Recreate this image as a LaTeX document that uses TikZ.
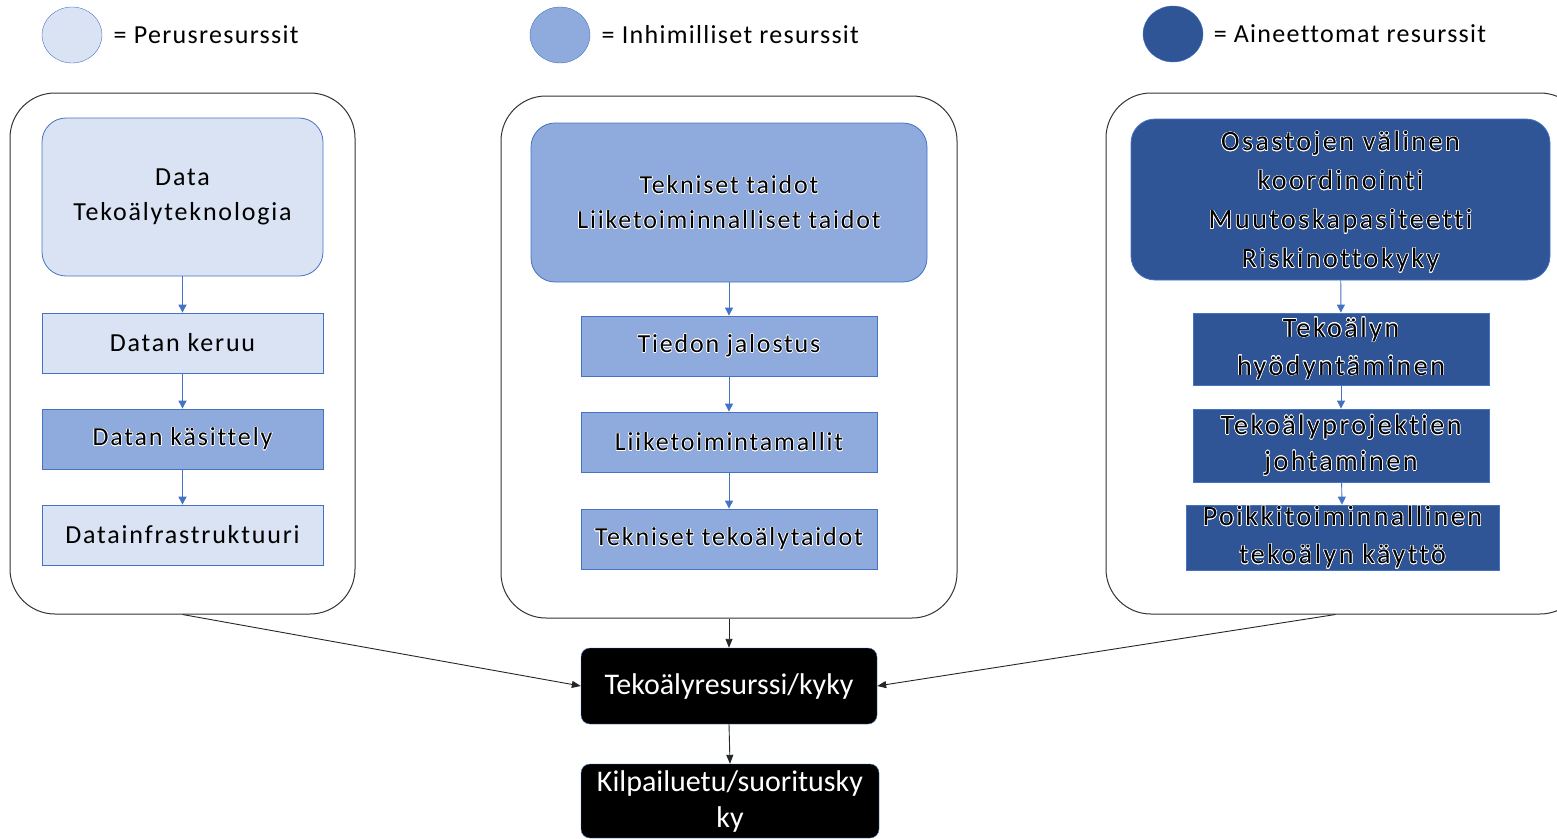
\documentclass[tikz,border=0pt]{standalone}
\usepackage{fontspec}
\setmainfont{Carlito}
\newfontfamily\spaced[LetterSpace=7,Ligatures=NoCommon]{Carlito}
\newfontfamily\widespaced[LetterSpace=9,Ligatures=NoCommon]{Carlito}
\newfontfamily\legendfont[LetterSpace=5,Ligatures=NoCommon]{Carlito}
\usepackage[copies]{contour}
\usepackage{tikz}
\usetikzlibrary{arrows.meta,positioning,shapes.geometric}
\definecolor{resbasic}{HTML}{DAE3F3}
\definecolor{reshuman}{HTML}{8FAADC}
\definecolor{resintang}{HTML}{2F5597}
\definecolor{resedge}{HTML}{4472C4}
\contourlength{0.6pt}
\newcommand{\glow}[1]{\contour{white}{#1}}

\begin{document}
\begin{tikzpicture}[x=1pt, y=-1pt, font=\spaced\fontsize{26}{35}\selectfont,
    group/.style={draw=black!80, line width=1pt, rounded corners=45pt, inner sep=0pt},
    topres/.style={draw=resedge, line width=0.8pt, rounded corners=24pt,
        align=center, inner sep=2pt},
    stepres/.style={draw=resedge, line width=0.8pt, align=center, inner sep=2pt,
        minimum width=281pt, minimum height=60pt},
    result/.style={fill=black, draw=resedge, text=white, rounded corners=9pt,
        align=center, inner sep=2pt, font=\normalfont\fontsize{30}{36}\selectfont},
    legend/.style={ellipse, draw=resedge, minimum width=60pt, minimum height=56pt},
    flow/.style={draw=resedge, line width=0.9pt, -{Triangle[length=8pt,width=8pt]}},
    link/.style={draw=black!85, line width=0.9pt, -{Triangle[length=9pt,width=7pt]}}]
  \useasboundingbox (0,0) rectangle (1557,838);
  \clip (0,0) rectangle (1557,838);

  % legend
  \node[legend, fill=resbasic] (legbasic) at (72,35) {};
  \node[right=8pt of legbasic, font=\legendfont\fontsize{26}{28}\selectfont] (legbasictxt) {= Perusresurssit};
  \node[legend, fill=reshuman] (leghuman) at (560,35) {};
  \node[right=8pt of leghuman, font=\legendfont\fontsize{26}{28}\selectfont] (leghumantxt) {= Inhimilliset resurssit};
  \node[legend, fill=resintang] (legintang) at (1173,34) {};
  \node[right=7pt of legintang, font=\legendfont\fontsize{26}{28}\selectfont] (legintangtxt) {= Aineettomat resurssit};

  % groups
  \node[group, minimum width=345pt, minimum height=521pt] (gbasic) at (182.5,353.5) {};
  \node[group, minimum width=456pt, minimum height=522pt] (ghuman) at (729,357) {};
  \node[group, minimum width=479pt, minimum height=521pt] (gintang) at (1345.5,353.5) {};

  % perusresurssit
  \node[topres, fill=resbasic, minimum width=281pt, minimum height=158pt] (data) at (182.5,197)
    {Data\\Teko\"alyteknologia};
  \node[stepres, fill=resbasic] (keruu) at (182.5,343) {Datan keruu};
  \node[stepres, fill=reshuman] (kasittely) at (182.5,439) {\glow{Datan k\"asittely}};
  \node[stepres, fill=resbasic] (infra) at (182.5,535) {Datainfrastruktuuri};

  % inhimilliset resurssit
  \node[topres, fill=reshuman, minimum width=396pt, minimum height=159pt] (taidot) at (729,202.5)
    {\glow{Tekniset taidot}\\\glow{Liiketoiminnalliset taidot}};
  \node[stepres, fill=reshuman, minimum width=296pt] (jalostus) at (729,346) {\glow{Tiedon jalostus}};
  \node[stepres, fill=reshuman, minimum width=296pt] (mallit) at (729,442) {\glow{Liiketoimintamallit}};
  \node[stepres, fill=reshuman, minimum width=296pt] (tekniset) at (729,539) {\glow{Tekniset teko\"alytaidot}};

  % aineettomat resurssit
  \node[topres, fill=resintang, minimum width=419pt, minimum height=161pt,
    font=\widespaced\fontsize{28}{39}\selectfont, text depth=0pt] (koord) at (1340.5,199.5)
    {\glow{Osastojen v\"alinen}\\\glow{koordinointi}\\\glow{Muutoskapasiteetti}\\\glow{Riskinottokyky}};
  \node[stepres, fill=resintang, minimum width=296pt, minimum height=72pt,
    font=\widespaced\fontsize{28}{38}\selectfont, inner sep=0pt] (hyod) at (1341,349)
    {\glow{Teko\"alyn}\\\glow{hy\"odynt\"aminen}};
  \node[stepres, fill=resintang, minimum width=296pt, minimum height=73pt,
    font=\widespaced\fontsize{28}{36}\selectfont, inner sep=0pt] (projekti) at (1341,445.5)
    {\glow{Teko\"alyprojektien}\\\glow{johtaminen}};
  \node[stepres, fill=resintang, minimum width=313pt, minimum height=65pt,
    font=\widespaced\fontsize{28}{38}\selectfont, inner sep=0pt] (poikki) at (1342.5,537.5)
    {\glow{Poikkitoiminnallinen}\\\glow{teko\"alyn k\"aytt\"o}};

  % results
  \node[result, minimum width=296pt, minimum height=76pt] (kyky) at (729,686) {Teko\"alyresurssi/kyky};
  \node[result, minimum width=298pt, minimum height=74pt] (etu) at (730,801)
    {Kilpailuetu/suoritusky\\ky};

  % connectors
  \draw[flow] (data) -- (keruu);
  \draw[flow] (keruu) -- (kasittely);
  \draw[flow] (kasittely) -- (infra);
  \draw[flow] (taidot) -- (jalostus);
  \draw[flow] (jalostus) -- (mallit);
  \draw[flow] (mallit) -- (tekniset);
  \draw[flow] (koord) -- (hyod);
  \draw[flow] (hyod) -- (projekti);
  \draw[flow] (projekti) -- (poikki);
  \draw[link] (gbasic.south) -- (kyky.west);
  \draw[link] (ghuman.south) -- (kyky.north);
  \draw[link] ([xshift=-10pt]gintang.south) -- (kyky.east);
  \draw[link] (kyky.south) -- (etu.north);
\end{tikzpicture}
\end{document}
